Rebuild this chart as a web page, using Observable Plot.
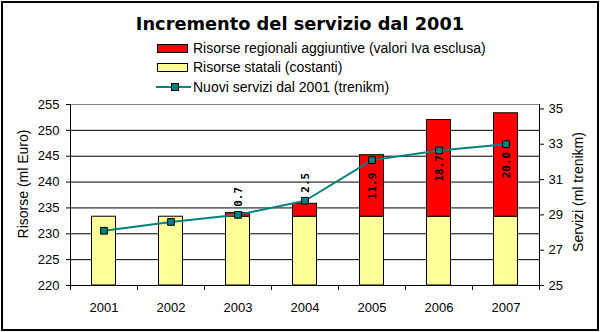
<!DOCTYPE html>
<html>
<head>
<meta charset="utf-8">
<script src="https://cdn.jsdelivr.net/npm/d3@7"></script>
<script src="https://cdn.jsdelivr.net/npm/@observablehq/plot@0.6"></script>
<style>
  html, body { margin: 0; padding: 0; background: #fff; }
  #wrap { position: relative; width: 600px; height: 332px; overflow: hidden; font-family: "Liberation Sans", Arial, sans-serif; }
  #frame { position: absolute; left: 1px; top: 1px; width: 594px; height: 326px; border: 2px solid #000; pointer-events: none; z-index: 5; }
  #header { position: relative; height: 97px; }
  #title { position: absolute; left: 0; width: 600px; top: 14px; text-align: center; font-family: "DejaVu Sans", sans-serif; font-weight: bold; font-size: 17.8px; line-height: 19px; color: #000; }
  .row { position: absolute; left: 156px; height: 14px; display: flex; align-items: center; font-size: 14px; line-height: 14px; color: #000; white-space: nowrap; }
  .sw { width: 29px; height: 7px; border: 1px solid #000; margin-left: 1px; margin-right: 5px; }
  .ln { position: relative; width: 35px; height: 14px; margin-right: 2px; }
  .ln .bar { position: absolute; left: 0; top: 6px; width: 35px; height: 2px; background: #008080; }
  .ln .mk { position: absolute; left: 15px; top: 3px; width: 6px; height: 6px; background: #008080; border: 1px solid #000; }
</style>
</head>
<body>
<div id="wrap">
  <div id="frame"></div>
  <div id="header">
    <div id="title"></div>
    <div id="legend"></div>
  </div>
  <div id="chart"></div>
</div>
<script>
// ---- data ----
const title = "Incremento del servizio dal 2001";
const years = ["2001", "2002", "2003", "2004", "2005", "2006", "2007"];
const statali = [233.3, 233.3, 233.3, 233.3, 233.3, 233.3, 233.3];
const regionali = [0, 0, 0.7, 2.5, 11.9, 18.7, 20.0];
const servizi = [28.1, 28.6, 29.0, 29.8, 32.1, 32.65, 33.0];
const leftTicks = [220, 225, 230, 235, 240, 245, 250, 255];
const rightTicks = [25, 27, 29, 31, 33, 35];
const seriesNames = ["Risorse regionali aggiuntive (valori Iva esclusa)", "Risorse statali (costanti)", "Nuovi servizi dal 2001 (trenikm)"];
const yLabel = "Risorse (ml Euro)";
const y2Label = "Servizi (ml trenikm)";

// ---- scales mapping (secondary axis onto primary) ----
const yDom = [220, 255];
const y2Dom = [25, 35.25];
const toLeft = v => yDom[0] + (v - y2Dom[0]) * (yDom[1] - yDom[0]) / (y2Dom[1] - y2Dom[0]);
const fromLeft = v => y2Dom[0] + (v - yDom[0]) * (y2Dom[1] - y2Dom[0]) / (yDom[1] - yDom[0]);

const RED = "#FF0000", YELLOW = "#FFFF99", TEAL = "#008080";

document.getElementById("title").textContent = title;
const legend = document.getElementById("legend");
const rowTops = [41, 60, 80];
seriesNames.forEach((name, k) => {
  const row = document.createElement("div");
  row.className = "row";
  row.style.top = rowTops[k] + "px";
  if (k < 2) {
    const sw = document.createElement("div");
    sw.className = "sw";
    sw.style.background = k === 0 ? RED : YELLOW;
    row.appendChild(sw);
  } else {
    const ln = document.createElement("div");
    ln.className = "ln";
    ln.innerHTML = '<div class="bar"></div><div class="mk"></div>';
    row.appendChild(ln);
  }
  const t = document.createElement("span");
  t.textContent = name;
  row.appendChild(t);
  legend.appendChild(row);
});

const data = years.map((year, i) => ({
  i, year,
  statali: statali[i],
  regionali: regionali[i],
  top: statali[i] + regionali[i],
  servizi: servizi[i]
}));
const withReg = data.filter(d => d.regionali > 0);

const chart = Plot.plot({
  width: 600,
  height: 235,
  marginLeft: 70,
  marginRight: 61,
  marginTop: 7,
  marginBottom: 47,
  style: { fontFamily: "Liberation Sans, Arial, sans-serif", fontSize: "13px", color: "#000", background: "transparent", overflow: "visible" },
  x: { domain: [0, years.length], axis: null },
  y: { domain: yDom, axis: null },
  marks: [
    // gridlines
    Plot.ruleY(leftTicks.slice(1, -1), { stroke: "#000", strokeWidth: 1 }),
    Plot.ruleY(leftTicks.slice(-1), { stroke: "#808080", strokeWidth: 1 }),
    // stacked bars
    Plot.rectY(data, { x1: d => d.i, x2: d => d.i + 1, y1: yDom[0], y2: "statali", fill: YELLOW, stroke: "#000", strokeWidth: 1, insetLeft: 21.5, insetRight: 21.5 }),
    Plot.rectY(withReg, { x1: d => d.i, x2: d => d.i + 1, y1: "statali", y2: "top", fill: RED, stroke: "#000", strokeWidth: 1, insetLeft: 21.5, insetRight: 21.5 }),
    // axis lines
    Plot.ruleX([0, years.length], { stroke: "#000", strokeWidth: 1 }),
    Plot.ruleY([yDom[0]], { stroke: "#000", strokeWidth: 1 }),
    // line series
    Plot.line(data, { x: d => d.i + 0.5, y: d => toLeft(d.servizi), stroke: TEAL, strokeWidth: 2 }),
    Plot.dot(data, { x: d => d.i + 0.5, y: d => toLeft(d.servizi), symbol: "square", r: 3.8, fill: TEAL, stroke: "#000", strokeWidth: 1 }),
    // value labels
    Plot.text(withReg.filter(d => d.regionali >= 5), { x: d => d.i + 0.5, y: d => d.statali + d.regionali / 2, text: d => d.regionali.toFixed(1), rotate: -90, textAnchor: "middle", fontFamily: "DejaVu Sans Mono, monospace", fontWeight: "bold", fontSize: 11, fill: "#000" }),
    Plot.text(withReg.filter(d => d.regionali < 5), { x: d => d.i + 0.5, y: d => toLeft(d.servizi), dy: -18, text: d => d.regionali.toFixed(1), rotate: -90, textAnchor: "middle", fontFamily: "DejaVu Sans Mono, monospace", fontWeight: "bold", fontSize: 11, fill: "#000" }),
    // axes
    Plot.axisY(leftTicks, { anchor: "left", tickSize: 4, tickPadding: 7, label: null, fontSize: 13 }),
    Plot.axisY(rightTicks.map(toLeft), { anchor: "right", tickSize: 4, tickPadding: 5, label: null, fontSize: 13, tickFormat: v => String(Math.round(fromLeft(v))) }),
    Plot.axisX(d3.range(years.length + 1), { anchor: "bottom", tickSize: 5, tickFormat: () => "", label: null }),
    Plot.axisX(years.map((_, i) => i + 0.5), { anchor: "bottom", tickSize: 0, tickPadding: 17, label: null, fontSize: 13, tickFormat: v => years[Math.floor(v)] }),
    // axis titles
    Plot.text([yLabel], { frameAnchor: "left", textAnchor: "middle", dx: -47, dy: -11, rotate: -90, text: d => d, fontSize: 14, fill: "#000" }),
    Plot.text([y2Label], { frameAnchor: "right", textAnchor: "middle", dx: 39, dy: -3, rotate: -90, text: d => d, fontSize: 14, fill: "#000" })
  ]
});
document.getElementById("chart").appendChild(chart);
</script>
</body>
</html>
